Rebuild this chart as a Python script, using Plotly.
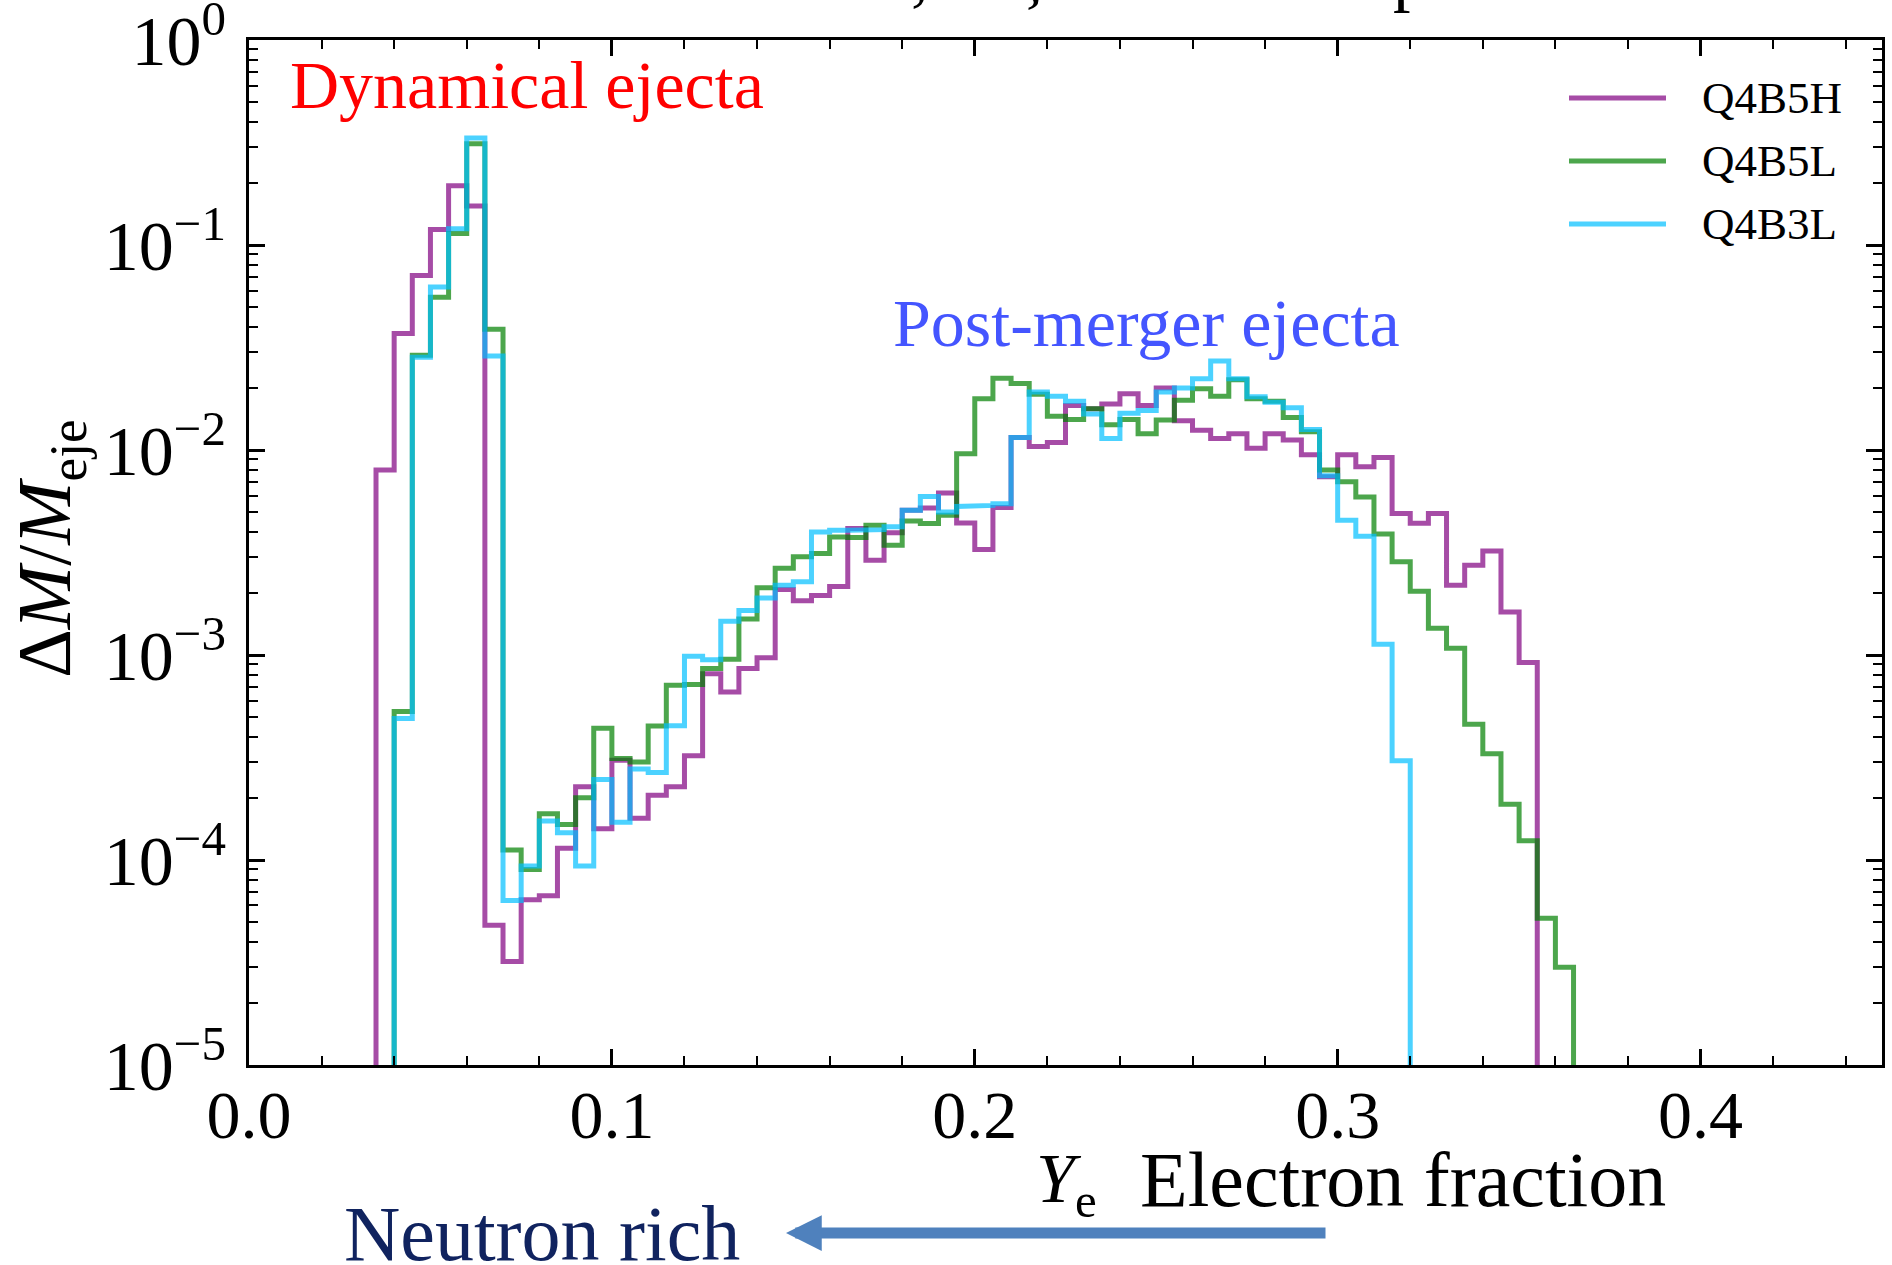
import plotly.graph_objects as go

# ---------------- data ----------------
BIN_WIDTH = 0.005
# left edges of the Ye bins, 0.035 ... 0.360
ye_bin_left = [round(0.035 + BIN_WIDTH * i, 3) for i in range(66)]

q4b5h = [8.0e-3, 3.7e-2, 7.1e-2, 0.119, 0.195, 0.155, 4.8e-5, 3.2e-5, 6.4e-5, 6.7e-5,
         1.14e-4, 2.28e-4, 1.42e-4, 3.07e-4, 1.60e-4, 2.07e-4, 2.28e-4, 3.23e-4, 8.1e-4, 6.6e-4,
         8.6e-4, 9.7e-4, 2.09e-3, 1.84e-3, 1.95e-3, 2.16e-3, 4.14e-3, 2.90e-3, 3.95e-3, 5.08e-3,
         5.21e-3, 6.17e-3, 4.41e-3, 3.27e-3, 5.24e-3, 1.15e-2, 1.04e-2, 1.09e-2, 1.65e-2, 1.59e-2,
         1.68e-2, 1.88e-2, 1.65e-2, 2.01e-2, 1.39e-2, 1.25e-2, 1.14e-2, 1.20e-2, 1.02e-2, 1.20e-2,
         1.12e-2, 9.5e-3, 7.4e-3, 9.5e-3, 8.3e-3, 9.2e-3, 4.9e-3, 4.4e-3, 4.9e-3, 2.19e-3,
         2.74e-3, 3.22e-3, 1.62e-3, 9.2e-4, 0, 0]

q4b5l = [0, 5.3e-4, 2.9e-2, 5.57e-2, 0.114, 0.312, 3.89e-2, 1.12e-4, 9.0e-5, 1.68e-4,
         1.49e-4, 2.01e-4, 4.39e-4, 3.13e-4, 3.01e-4, 4.51e-4, 7.13e-4, 7.19e-4, 8.59e-4, 9.55e-4,
         1.50e-3, 2.13e-3, 2.65e-3, 3.02e-3, 3.13e-3, 3.77e-3, 3.74e-3, 4.30e-3, 3.43e-3, 4.51e-3,
         4.38e-3, 4.81e-3, 9.6e-3, 1.78e-2, 2.24e-2, 2.11e-2, 1.87e-2, 1.46e-2, 1.41e-2, 1.59e-2,
         1.33e-2, 1.41e-2, 1.20e-2, 1.40e-2, 1.75e-2, 1.99e-2, 1.83e-2, 2.20e-2, 1.78e-2, 1.73e-2,
         1.44e-2, 1.23e-2, 8.0e-3, 7.0e-3, 5.9e-3, 3.9e-3, 2.85e-3, 2.05e-3, 1.35e-3, 1.08e-3,
         4.6e-4, 3.3e-4, 1.87e-4, 1.24e-4, 5.2e-5, 3.0e-5]

q4b3l = [0, 4.9e-4, 2.84e-2, 6.24e-2, 0.12, 0.333, 2.88e-2, 6.35e-5, 9.35e-5, 1.55e-4,
         1.36e-4, 9.35e-5, 2.47e-4, 1.53e-4, 2.78e-4, 2.67e-4, 4.52e-4, 9.86e-4, 9.48e-4, 1.46e-3,
         1.65e-3, 1.90e-3, 2.19e-3, 2.28e-3, 3.98e-3, 4.06e-3, 4.06e-3, 4.09e-3, 4.22e-3, 5.08e-3,
         5.94e-3, 4.99e-3, 5.31e-3, 5.37e-3, 5.47e-3, 1.15e-2, 1.92e-2, 1.83e-2, 1.73e-2, 1.50e-2,
         1.14e-2, 1.51e-2, 1.56e-2, 1.92e-2, 2.01e-2, 2.23e-2, 2.72e-2, 2.23e-2, 1.82e-2, 1.71e-2,
         1.61e-2, 1.26e-2, 7.5e-3, 4.55e-3, 3.8e-3, 1.13e-3, 3.05e-4, 0, 0, 0,
         0, 0, 0, 0, 0, 0]

series_names = ["Q4B5H", "Q4B5L", "Q4B3L"]
series_values = [q4b5h, q4b5l, q4b3l]
series_colors = ["rgba(128,0,128,0.7)", "rgba(0,128,0,0.7)", "rgba(0,191,255,0.7)"]

x_tick_vals = [0.0, 0.1, 0.2, 0.3, 0.4]
x_tick_text = ["0.0", "0.1", "0.2", "0.3", "0.4"]
y_tick_vals = [1e-5, 1e-4, 1e-3, 1e-2, 1e-1, 1.0]
y_tick_text = ["10<sup>\u22125</sup>", "10<sup>\u22124</sup>", "10<sup>\u22123</sup>",
               "10<sup>\u22122</sup>", "10<sup>\u22121</sup>", "10<sup>0</sup>"]

# ---------------- figure ----------------
W, H = 1892, 1265
ML, MR, MT, MB = 249, 10, 40, 200
PW, PH = W - ML - MR, H - MT - MB
FONT = "Liberation Serif"
FLOOR = 1e-8  # below the axis range: histogram outline drops to the bottom


def px_x(px):
    return (px - ML) / PW


def px_y(py):
    return (H - MB - py) / PH


def step_outline(lefts, vals, width):
    nz = [i for i, v in enumerate(vals) if v > 0]
    i0, i1 = nz[0], nz[-1]
    xs, ys = [lefts[i0]], [FLOOR]
    for i in range(i0, i1 + 1):
        v = vals[i] if vals[i] > 0 else FLOOR
        xs += [lefts[i], lefts[i] + width]
        ys += [v, v]
    xs.append(lefts[i1] + width)
    ys.append(FLOOR)
    return xs, ys


fig = go.Figure()
for name, vals, col in zip(series_names, series_values, series_colors):
    xs, ys = step_outline(ye_bin_left, vals, BIN_WIDTH)
    fig.add_trace(go.Scatter(x=xs, y=ys, mode="lines", name=name,
                             line=dict(color=col, width=5), showlegend=False,
                             hoverinfo="skip"))

minor_y = [m * 10.0 ** e for e in range(-5, 0) for m in range(2, 10)]

axis_common = dict(showline=True, linecolor="black", linewidth=3, mirror="allticks",
                   ticks="inside", ticklen=16, tickwidth=2.5, tickcolor="black",
                   showgrid=False, zeroline=False, ticklabeloverflow="allow")

fig.update_xaxes(range=[0, 0.45], tickmode="array", tickvals=x_tick_vals, ticktext=x_tick_text,
                 ticklabelstandoff=-12,
                 tickfont=dict(family=FONT, size=68, color="black"),
                 minor=dict(ticks="inside", ticklen=9, tickwidth=2.2, tickcolor="black",
                            dtick=0.02, tick0=0, showgrid=False),
                 **axis_common)
fig.update_yaxes(type="log", range=[-5, 0.0005], tickmode="array", tickvals=y_tick_vals,
                 ticktext=y_tick_text, ticklabelstandoff=6,
                 tickfont=dict(family=FONT, size=70, color="black"),
                 minor=dict(ticks="inside", ticklen=9, tickwidth=2.2, tickcolor="black",
                            tickmode="array", tickvals=minor_y, showgrid=False),
                 **axis_common)

annotations = []
# y-axis title
annotations.append(dict(text="\u0394<i>M</i>/<i>M</i><sub>eje</sub>", xref="paper", yref="paper",
                        x=px_x(50), y=px_y(549), textangle=-90, showarrow=False,
                        xanchor="center", yanchor="middle",
                        font=dict(family=FONT, size=76, color="black")))
# x-axis title
annotations.append(dict(text="<i>Y</i><sub>e</sub>", xref="paper", yref="paper",
                        x=px_x(1034), y=px_y(1184), showarrow=False,
                        xanchor="left", yanchor="middle",
                        font=dict(family=FONT, size=70, color="black")))
annotations.append(dict(text="Electron fraction", xref="paper", yref="paper",
                        x=px_x(1138), y=px_y(1179), showarrow=False,
                        xanchor="left", yanchor="middle",
                        font=dict(family=FONT, size=78, color="black")))
# in-plot labels
annotations.append(dict(text="Dynamical ejecta", xref="paper", yref="paper",
                        x=px_x(288), y=px_y(85), showarrow=False,
                        xanchor="left", yanchor="middle",
                        font=dict(family=FONT, size=68, color="#ff0000")))
annotations.append(dict(text="Post-merger ejecta", xref="paper", yref="paper",
                        x=px_x(891), y=px_y(323), showarrow=False,
                        xanchor="left", yanchor="middle",
                        font=dict(family=FONT, size=68, color="#4455ff")))
# neutron rich + arrow
annotations.append(dict(text="Neutron rich", xref="paper", yref="paper",
                        x=px_x(342), y=px_y(1233), showarrow=False,
                        xanchor="left", yanchor="middle",
                        font=dict(family=FONT, size=78, color="#10235f")))
annotations.append(dict(text="", xref="paper", yref="paper",
                        x=px_x(786), y=px_y(1233), ax=541, ay=0,
                        showarrow=True, arrowhead=2, arrowsize=0.65, arrowwidth=11,
                        arrowcolor="#4f81bd"))
# clipped title fragments at the very top edge
for txt, xp in [(",", 920), ("\u03b6", 1025), ("p", 1410)]:
    annotations.append(dict(text=txt, xref="paper", yref="paper",
                            x=px_x(xp), y=px_y(15), showarrow=False,
                            xanchor="center", yanchor="bottom",
                            font=dict(family=FONT, size=70, color="black")))

# manual legend (long line samples like the reference)
shapes = []
legend_rows = [98, 161, 224]
for name, col, row in zip(series_names, series_colors, legend_rows):
    shapes.append(dict(type="line", xref="paper", yref="paper",
                       x0=px_x(1569), x1=px_x(1666), y0=px_y(row), y1=px_y(row),
                       line=dict(color=col, width=5)))
    annotations.append(dict(text=name, xref="paper", yref="paper",
                            x=px_x(1700), y=px_y(row), showarrow=False,
                            xanchor="left", yanchor="middle",
                            font=dict(family=FONT, size=45, color="black")))

fig.update_layout(width=W, height=H, margin=dict(l=ML, r=MR, t=MT, b=MB, autoexpand=False),
                  paper_bgcolor="white", plot_bgcolor="white", showlegend=False,
                  annotations=annotations, shapes=shapes,
                  font=dict(family=FONT, color="black"))

fig.write_html("out.html")
